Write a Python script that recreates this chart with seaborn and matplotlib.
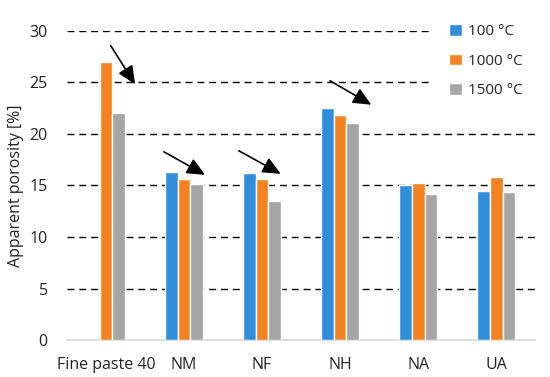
import numpy as np
import pandas as pd
import matplotlib
matplotlib.use("Agg")
import matplotlib.pyplot as plt
import seaborn as sns

# Data
samples = ["Fine paste 40", "NM", "NF", "NH", "NA", "UA"]
temps = ["100 °C", "1000 °C", "1500 °C"]
por_100 = [np.nan, 16.3, 16.2, 22.5, 15.0, 14.5]
por_1000 = [27.0, 15.6, 15.6, 21.8, 15.2, 15.8]
por_1500 = [22.0, 15.1, 13.5, 21.1, 14.2, 14.4]
colors = ["#2F8FDB", "#F58220", "#A5A5A5"]

rows = []
for t, vals in zip(temps, [por_100, por_1000, por_1500]):
    for s, v in zip(samples, vals):
        rows.append({"sample": s, "temp": t, "porosity": v})
df = pd.DataFrame(rows)

sns.set_style("white")
plt.rcParams["font.family"] = ["Open Sans", "DejaVu Sans"]

fig = plt.figure(figsize=(5.5, 3.77), dpi=100)
ax = fig.add_axes([0.122, 0.098, 0.851, 0.82])

sns.barplot(data=df, x="sample", y="porosity", hue="temp", order=samples,
            hue_order=temps, palette=colors, width=0.49, saturation=1,
            errorbar=None, ax=ax, zorder=3)

ax.set_ylim(0, 30)
ax.set_yticks(range(0, 31, 5))
ax.yaxis.grid(True, linestyle=(0, (5, 3.5)), color="black", linewidth=1, zorder=0)
ax.xaxis.grid(False)
ax.set_axisbelow(True)
fig.canvas.draw()
ax.yaxis.get_gridlines()[0].set_visible(False)
for side in ["left", "right", "top"]:
    ax.spines[side].set_visible(False)
ax.spines["bottom"].set_color("#D9D9D9")
ax.spines["bottom"].set_linewidth(1.2)
ax.tick_params(axis="both", length=0, labelsize=11.5, colors="#222222")
ax.tick_params(axis="y", pad=14)
ax.tick_params(axis="x", pad=12)
ax.set_xlabel("")
ax.set_ylabel("Apparent porosity [%]", fontsize=11.5, color="#222222", labelpad=4)

# trend arrows
arrows = [((0.04, 28.8), (0.39, 24.6)),
          ((0.71, 18.4), (1.30, 15.9)),
          ((1.67, 18.5), (2.27, 16.0)),
          ((2.84, 25.3), (3.43, 22.7))]
for start, end in arrows:
    ax.annotate("", xy=end, xytext=start, zorder=6,
                arrowprops=dict(arrowstyle="-|>,head_length=1.1,head_width=0.5",
                                color="black", lw=1.2))

leg = ax.legend(loc="upper right", bbox_to_anchor=(1.015, 1.087), frameon=True,
                fontsize=11, handlelength=0.8, handleheight=0.8,
                handletextpad=0.4, labelspacing=0.95, borderpad=1.3,
                borderaxespad=0)
leg.get_frame().set_facecolor("white")
leg.get_frame().set_edgecolor("none")
leg.get_frame().set_alpha(1)
leg.set_zorder(5)

fig.savefig("out.png", dpi=100)
